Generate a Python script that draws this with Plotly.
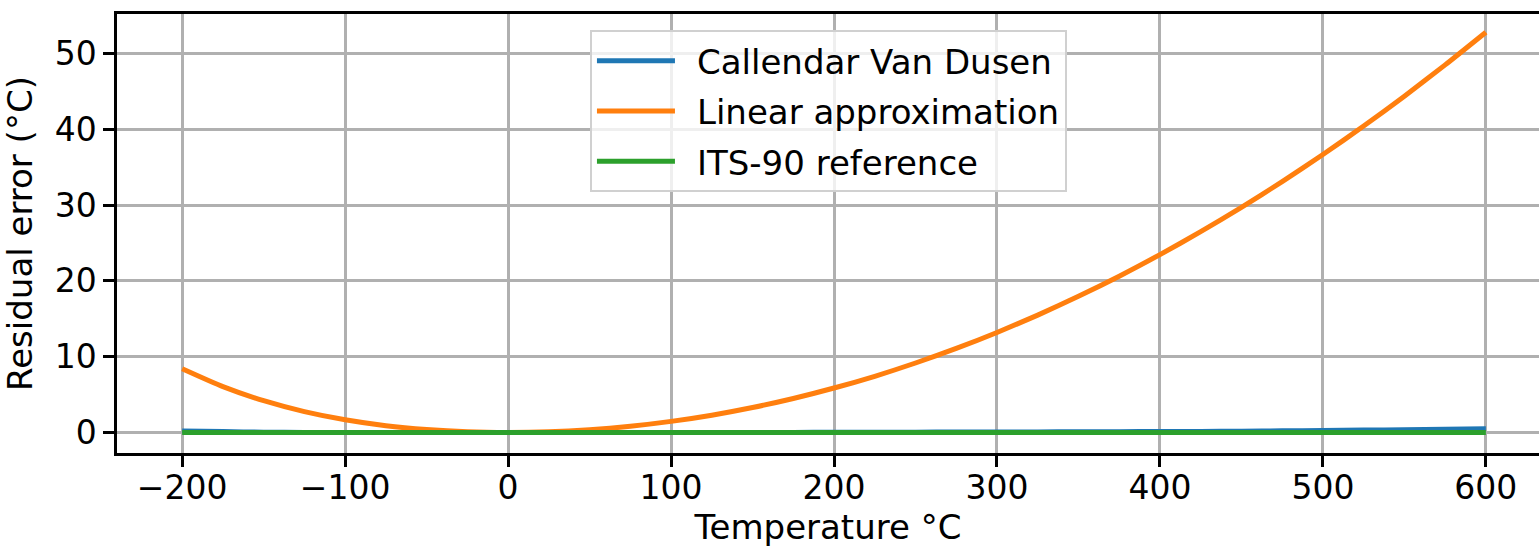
import plotly.graph_objects as go

temperature = [-200, -175, -150, -125, -100, -75, -50, -25, 0, 25, 50, 75, 100, 125, 150, 175,
               200, 225, 250, 275, 300, 325, 350, 375, 400, 425, 450, 475, 500, 525, 550, 575, 600]
cvd_error = [0.20, 0.12, 0.05, 0.02, 0.01, 0.0, 0.0, 0.0, 0.0, 0.0, 0.0, 0.0, 0.01, 0.01, 0.02, 0.02,
             0.03, 0.04, 0.05, 0.06, 0.07, 0.08, 0.10, 0.11, 0.13, 0.15, 0.18, 0.22, 0.27, 0.32, 0.38, 0.44, 0.50]
linear_error = [8.42, 6.06, 4.20, 2.76, 1.68, 0.90, 0.39, 0.09, 0.0, 0.09, 0.37, 0.83, 1.47, 2.29, 3.30, 4.49,
                5.87, 7.42, 9.17, 11.09, 13.20, 15.49, 17.97, 20.62, 23.47, 26.49, 29.70, 33.09, 36.67, 40.42, 44.36, 48.49, 52.80]
its90_error = [0.0] * len(temperature)

series = [
    ("Callendar Van Dusen", cvd_error, "#1f77b4"),
    ("Linear approximation", linear_error, "#ff7f0e"),
    ("ITS-90 reference", its90_error, "#2ca02c"),
]

font_family = "DejaVu Sans"
fs = 34

fig = go.Figure()
for i, (name, vals, color) in enumerate(series):
    fig.add_trace(go.Scatter(x=temperature, y=vals, mode="lines", name="\u2002" + name,
                             legendgroup=f"g{i}",
                             line=dict(color=color, width=5, shape="spline", smoothing=0.6)))

fig.update_layout(
    width=1539, height=547,
    margin=dict(l=117, r=0, t=14, b=94),
    paper_bgcolor="white", plot_bgcolor="white",
    font=dict(family=font_family, size=fs, color="black"),
    showlegend=True,
    legend=dict(x=0.3326, y=0.963, xanchor="left", yanchor="top",
                bgcolor="rgba(255,255,255,0.8)", bordercolor="#d0d0d0", borderwidth=2,
                font=dict(size=fs, family=font_family, color="black"),
                traceorder="grouped", tracegroupgap=3, itemwidth=78),
)
fig.update_xaxes(
    range=[-240, 632.6], tickmode="array", tickvals=[-200, -100, 0, 100, 200, 300, 400, 500, 600],
    ticktext=["\u2212200", "\u2212100", "0", "100", "200", "300", "400", "500", "600"],
    tickfont=dict(size=33), ticklabelstandoff=-7,
    showgrid=True, gridcolor="#b0b0b0", gridwidth=2.5,
    showline=True, linecolor="black", linewidth=2.5, mirror=True,
    ticks="outside", ticklen=11, tickwidth=2.5, tickcolor="black",
    zeroline=False,
    title=dict(text="Temperature °C", standoff=6, font=dict(size=fs, family=font_family)),
)
fig.update_yaxes(
    range=[-2.7, 55.2], tickmode="array", tickvals=[0, 10, 20, 30, 40, 50],
    tickfont=dict(size=33),
    showgrid=True, gridcolor="#b0b0b0", gridwidth=2.5,
    showline=True, linecolor="black", linewidth=2.5, mirror=False,
    ticks="outside", ticklen=11, tickwidth=2.5, tickcolor="black",
    zeroline=False,
    title=dict(text="Residual error (°C)", standoff=12, font=dict(size=fs, family=font_family)),
)

fig.write_html("out.html")
